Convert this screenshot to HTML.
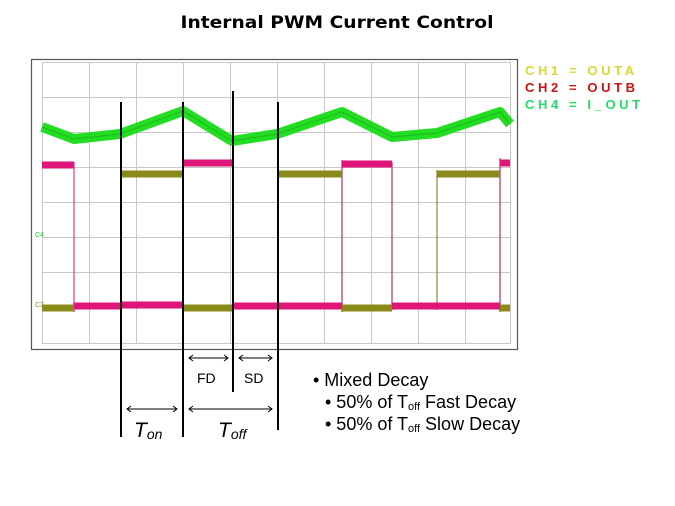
<!DOCTYPE html>
<html><head><meta charset="utf-8"><style>
html,body{margin:0;padding:0;background:#fff;}
svg{display:block}
</style></head><body>
<svg width="675" height="506" viewBox="0 0 675 506" xmlns="http://www.w3.org/2000/svg" font-family="Liberation Sans, Arial, sans-serif">
<text x="337" y="28" text-anchor="middle" font-family="DejaVu Sans, sans-serif" font-weight="bold" font-size="17" textLength="313" lengthAdjust="spacingAndGlyphs">Internal PWM Current Control</text>
<rect x="31.5" y="59.5" width="486" height="290" fill="#fff" stroke="#555" stroke-width="1.2"/>
<g stroke="#c8c8c8" stroke-width="1" fill="none">
<rect x="42.5" y="62.5" width="468" height="281"/>
<path d="M89.5 62V343M136.5 62V343M183.5 62V343M230.5 62V343M277.5 62V343M324.5 62V343M371.5 62V343M418.5 62V343M465.5 62V343"/>
<path d="M42 97.5H510M42 132.5H510M42 167.5H510M42 202.5H510M42 237.5H510M42 272.5H510M42 307.5H510"/>
</g>
<polyline points="42,127 74,139 120,134 183,111 232,141 277,134 342,112 392,137 437,133 500,112 510,124" fill="none" stroke="#22dd22" stroke-width="10" stroke-linejoin="round"/>
<polyline points="42,127 74,139 120,134 183,111 232,141 277,134 342,112 392,137 437,133 500,112 510,124" fill="none" stroke="#119911" stroke-width="1" opacity="0.5"/>
<g stroke-width="1.2">
<line x1="74" y1="162" x2="74" y2="312" stroke="#cc4488"/>
<line x1="342" y1="160" x2="342" y2="312" stroke="#aa3366"/>
<line x1="392" y1="162" x2="392" y2="310" stroke="#aa3366"/>
<line x1="437" y1="170" x2="437" y2="310" stroke="#888833"/>
<line x1="500" y1="158" x2="500" y2="312" stroke="#aa3366"/>
</g>
<g stroke="#8a8a1a" stroke-width="7" fill="none">
<path d="M42 308H74M183 308H232M342 308H392M500 308H510"/>
<path d="M120 174H183M277 174H342M437 174H500"/>
</g>
<g stroke="#e0157a" stroke-width="7" fill="none">
<path d="M42 165H74M183 163H232M342 164H392M500 163H510"/>
<path d="M74 306H120M120 305H183M232 306H342M392 306H500"/>
</g>
<g stroke="#000" stroke-width="2">
<line x1="121" y1="102" x2="121" y2="437"/>
<line x1="183" y1="102" x2="183" y2="437"/>
<line x1="233" y1="91" x2="233" y2="392"/>
<line x1="278" y1="102" x2="278" y2="430"/>
</g>
<g stroke="#000" stroke-width="1" fill="none">
<path d="M189 358H228M193 355L189 358L193 361M224 355L228 358L224 361"/>
<path d="M239 358H272M243 355L239 358L243 361M268 355L272 358L268 361"/>
<path d="M127 409H177M131 406L127 409L131 412M173 406L177 409L173 412"/>
<path d="M189 409H272M193 406L189 409L193 412M268 406L272 409L268 412"/>
</g>
<text x="197" y="383" font-size="14">FD</text>
<text x="244" y="383" font-size="14">SD</text>
<text x="134" y="437" font-size="21" font-style="italic">T<tspan font-size="14" dy="2">on</tspan></text>
<text x="218" y="437" font-size="21" font-style="italic">T<tspan font-size="14" dy="2">off</tspan></text>
<text x="313" y="386" font-size="18">• Mixed Decay</text>
<text x="325" y="408" font-size="18">• 50% of T<tspan font-size="11" dy="2">off</tspan><tspan dy="-2"> Fast Decay</tspan></text>
<text x="325" y="430" font-size="18">• 50% of T<tspan font-size="11" dy="2">off</tspan><tspan dy="-2"> Slow Decay</tspan></text>
<g font-size="13" font-weight="bold" letter-spacing="3.6">
<text x="525" y="75" fill="#d8d830">CH1 = OUTA</text>
<text x="525" y="92" fill="#cc1111">CH2 = OUTB</text>
<text x="525" y="109" fill="#22dd66">CH4 = I_OUT</text>
</g>
<text x="35" y="237" font-size="7" fill="#22cc22">C4</text>
<text x="35" y="307" font-size="7" fill="#888833">C3</text>
</svg>
</body></html>
